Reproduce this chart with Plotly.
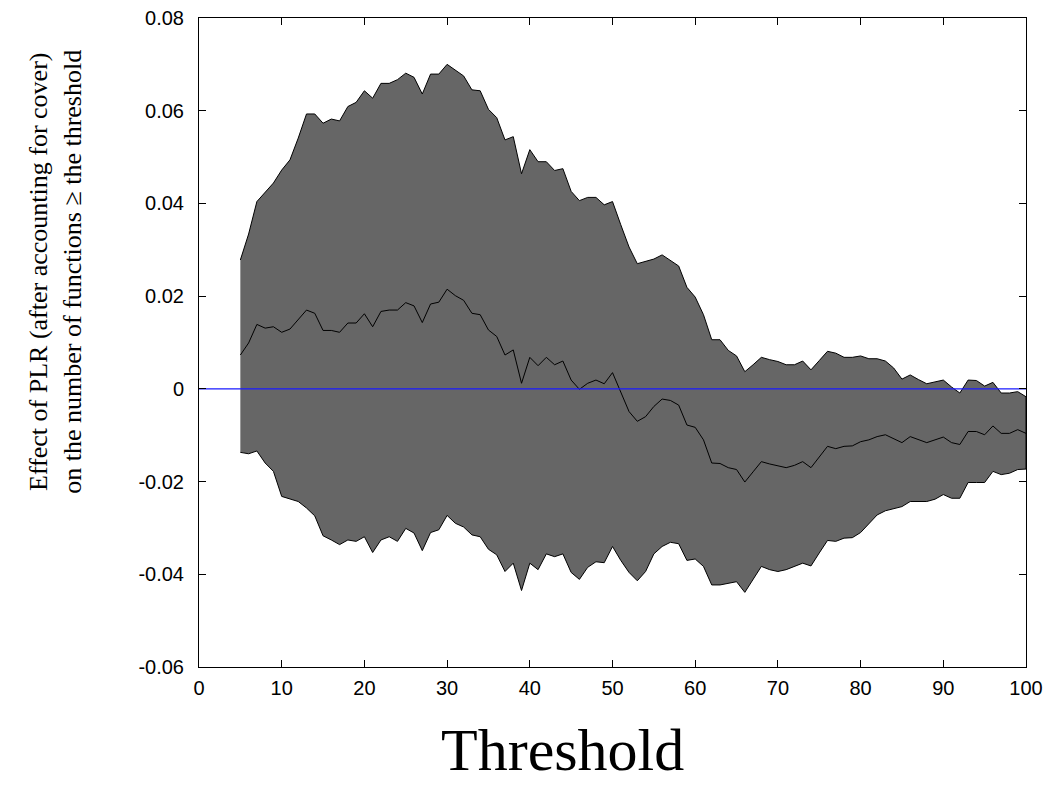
import plotly.graph_objects as go

threshold = list(range(5, 101))

upper = [0.0278, 0.0334, 0.0404, 0.0424, 0.0444, 0.0472, 0.0494, 0.0541, 0.0593, 0.0593,
         0.0573, 0.0582, 0.0578, 0.0609, 0.0618, 0.0643, 0.0627, 0.0659, 0.0659, 0.0667,
         0.0681, 0.0672, 0.0636, 0.0679, 0.0679, 0.0700, 0.0687, 0.0675, 0.0645, 0.0643,
         0.0603, 0.0585, 0.0537, 0.0544, 0.0464, 0.0516, 0.0490, 0.0490, 0.0471, 0.0475,
         0.0426, 0.0406, 0.0413, 0.0413, 0.0397, 0.0404, 0.0354, 0.0306, 0.0270, 0.0275,
         0.0280, 0.0289, 0.0277, 0.0265, 0.0219, 0.0198, 0.0160, 0.0106, 0.0106, 0.0083,
         0.0071, 0.0037, 0.0052, 0.0068, 0.0063, 0.0059, 0.0052, 0.0052, 0.0060, 0.0041,
         0.0061, 0.0081, 0.0077, 0.0068, 0.0068, 0.0071, 0.0065, 0.0065, 0.0060, 0.0045,
         0.0021, 0.0030, 0.0020, 0.0011, 0.0015, 0.0019, 0.0004, -0.0009, 0.0019, 0.0018,
         0.0006, 0.0014, -0.0009, -0.0009, -0.0006, -0.0017]

mean = [0.0073, 0.0099, 0.0139, 0.0131, 0.0134, 0.0122, 0.0129, 0.0149, 0.0170, 0.0163,
        0.0126, 0.0126, 0.0122, 0.0142, 0.0142, 0.0162, 0.0134, 0.0167, 0.0170, 0.0170,
        0.0186, 0.0179, 0.0143, 0.0183, 0.0187, 0.0215, 0.0201, 0.0191, 0.0163, 0.0160,
        0.0127, 0.0113, 0.0073, 0.0084, 0.0012, 0.0068, 0.0050, 0.0068, 0.0052, 0.0060,
        0.0019, -0.0001, 0.0012, 0.0019, 0.0011, 0.0035, -0.0009, -0.0049, -0.0070, -0.0060,
        -0.0038, -0.0022, -0.0025, -0.0035, -0.0078, -0.0083, -0.0110, -0.0160, -0.0161, -0.0170,
        -0.0174, -0.0201, -0.0179, -0.0157, -0.0162, -0.0166, -0.0170, -0.0165, -0.0157, -0.0170,
        -0.0147, -0.0124, -0.0129, -0.0124, -0.0123, -0.0114, -0.0110, -0.0103, -0.0099, -0.0108,
        -0.0116, -0.0103, -0.0110, -0.0116, -0.0110, -0.0104, -0.0116, -0.0120, -0.0092, -0.0092,
        -0.0099, -0.0080, -0.0096, -0.0096, -0.0088, -0.0096]

lower = [-0.0137, -0.0140, -0.0134, -0.0160, -0.0178, -0.0232, -0.0237, -0.0243, -0.0257, -0.0274,
         -0.0317, -0.0326, -0.0336, -0.0326, -0.0329, -0.0319, -0.0353, -0.0326, -0.0319, -0.0329,
         -0.0301, -0.0311, -0.0349, -0.0310, -0.0304, -0.0273, -0.0290, -0.0298, -0.0315, -0.0319,
         -0.0346, -0.0358, -0.0394, -0.0376, -0.0435, -0.0376, -0.0390, -0.0356, -0.0362, -0.0356,
         -0.0396, -0.0411, -0.0385, -0.0373, -0.0375, -0.0340, -0.0370, -0.0396, -0.0414, -0.0394,
         -0.0356, -0.0340, -0.0331, -0.0334, -0.0370, -0.0367, -0.0383, -0.0423, -0.0423, -0.0419,
         -0.0416, -0.0439, -0.0411, -0.0383, -0.0390, -0.0394, -0.0390, -0.0383, -0.0376, -0.0382,
         -0.0354, -0.0327, -0.0329, -0.0322, -0.0321, -0.0310, -0.0290, -0.0272, -0.0263, -0.0258,
         -0.0254, -0.0243, -0.0243, -0.0243, -0.0238, -0.0228, -0.0236, -0.0236, -0.0202, -0.0202,
         -0.0202, -0.0178, -0.0185, -0.0182, -0.0174, -0.0173]

x_ticks = [0, 10, 20, 30, 40, 50, 60, 70, 80, 90, 100]
y_ticks = [-0.06, -0.04, -0.02, 0, 0.02, 0.04, 0.06, 0.08]
y_ticktext = ["-0.06", "-0.04", "-0.02", "0", "0.02", "0.04", "0.06", "0.08"]
zero_x = [0, 100]
zero_y = [0, 0]

fig = go.Figure()
fig.add_trace(go.Scatter(
    x=threshold + threshold[::-1],
    y=upper + lower[::-1],
    fill="toself", fillcolor="#666666",
    line=dict(color="black", width=1),
    mode="lines", hoverinfo="skip", showlegend=False))
fig.add_trace(go.Scatter(
    x=threshold, y=mean, mode="lines",
    line=dict(color="black", width=1), showlegend=False))
fig.add_trace(go.Scatter(
    x=zero_x, y=zero_y, mode="lines",
    line=dict(color="#1a1aff", width=1.3), showlegend=False))

axis_common = dict(
    showline=True, linecolor="black", linewidth=1, mirror="ticks",
    ticks="inside", ticklen=7, tickwidth=1, tickcolor="black",
    showgrid=False, zeroline=False, automargin=False, ticklabeloverflow="allow",
    tickfont=dict(family="Liberation Sans, Arial", size=20, color="black"),
)

fig.update_layout(
    width=1035, height=782,
    margin=dict(l=191, r=17, t=10, b=123, autoexpand=False),
    plot_bgcolor="white", paper_bgcolor="white",
    xaxis=dict(range=[0, 100], tickvals=x_ticks, ticklabelstandoff=3, **axis_common),
    yaxis=dict(range=[-0.06, 0.08], tickvals=y_ticks, ticktext=y_ticktext,
               ticklabelstandoff=10, **axis_common),
    annotations=[
        dict(text="Effect of PLR (after accounting for cover)<br>on the number of functions ≥ the threshold",
             xref="paper", yref="paper", x=-0.173, y=0.609, xanchor="center", yanchor="middle",
             textangle=-90, showarrow=False,
             font=dict(family="Liberation Serif, Times New Roman", size=26, color="black")),
        dict(text="Threshold", xref="paper", yref="paper", x=0.439, y=-0.128,
             xanchor="center", yanchor="middle", showarrow=False,
             font=dict(family="Liberation Serif, Times New Roman", size=60, color="black")),
    ],
)

fig.write_html("out.html")
